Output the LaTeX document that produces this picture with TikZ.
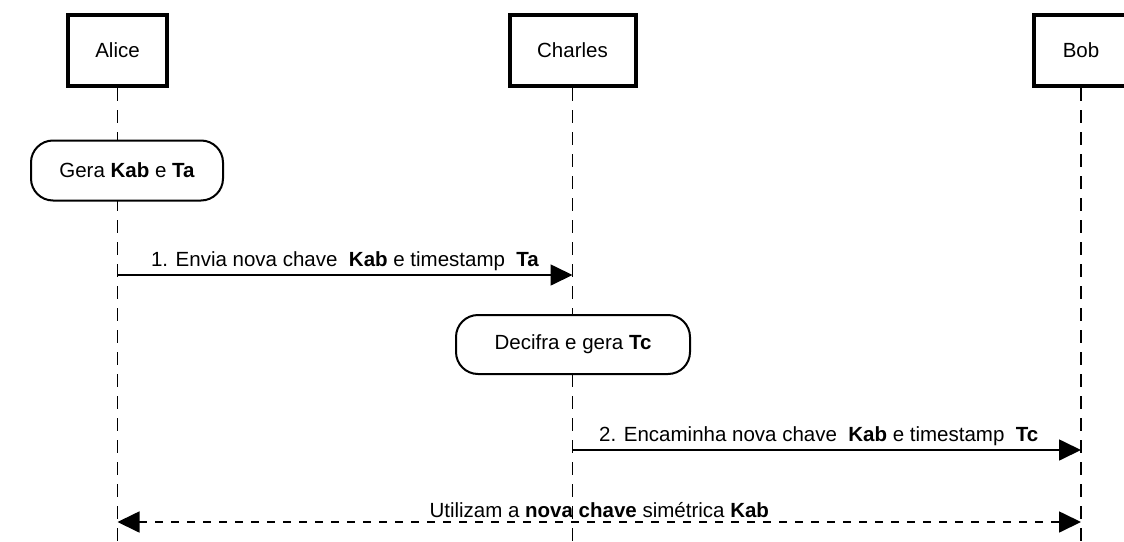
\documentclass[tikz,border=0pt]{standalone}
\usepackage{fontspec}
\setmainfont{Liberation Sans}
\usetikzlibrary{arrows.meta}
\usetikzlibrary{calc}

\tikzset{
  actor/.style={draw, line width=4pt, minimum height=71, inner sep=0pt},
  note/.style={draw, fill=white, line width=2pt, rounded corners=22pt, inner sep=0pt},
  lifeline/.style={line width=1.7pt, dash pattern=on 12.5pt off 9.5pt},
  msg/.style={line width=1.7pt, -{Triangle[length=22pt, width=21pt]}},
  sync/.style={line width=1.7pt, dash pattern=on 8pt off 8pt, {Triangle[length=22pt, width=21pt]}-{Triangle[length=22pt, width=21pt]}}
}

\begin{document}
\begin{tikzpicture}[x=1pt, y=-1pt, font=\fontsize{20.5}{24}\selectfont]
      \useasboundingbox (0,0) rectangle (1124,541);
      \foreach \n/\t/\x/\w in {alice/Alice/117.5/99, charles/Charles/572.5/126, bob/Bob/1081/94} {
        \node[actor, minimum width=\w] (\n) at (\x,50.5) {\t};
        \coordinate (\n-end) at (\x,541);
        \draw[lifeline] (\n) -- (\n-end);
      }
      \node[note, minimum width=192, minimum height=60] (gera) at (127,170.5) {Gera \textbf{Kab} e \textbf{Ta}};
      \node[note, minimum width=234, minimum height=59] (decifra) at (573,344.5) {Decifra e gera \textbf{Tc}};
      \coordinate (m1-from) at (alice |- 0,275);
      \coordinate (m1-to) at (charles |- 0,275);
      \coordinate (m2-from) at (charles |- 0,450);
      \coordinate (m2-to) at (bob |- 0,450);
      \coordinate (m3-from) at (alice |- 0,522);
      \coordinate (m3-to) at (bob |- 0,522);
      \draw[msg] (m1-from) -- node[above=0.5pt] {1. Envia nova chave~ \textbf{Kab} e timestamp~ \textbf{Ta}} (m1-to);
      \draw[msg] (m2-from) -- node[above=0.5pt, xshift=-8pt] {2. Encaminha nova chave~ \textbf{Kab} e timestamp~ \textbf{Tc}} (m2-to);
      \draw[sync] (m3-from) -- node[above=0.5pt] {Utilizam a \textbf{nova chave} simétrica \textbf{Kab}} (m3-to);
    \end{tikzpicture}
\end{document}
